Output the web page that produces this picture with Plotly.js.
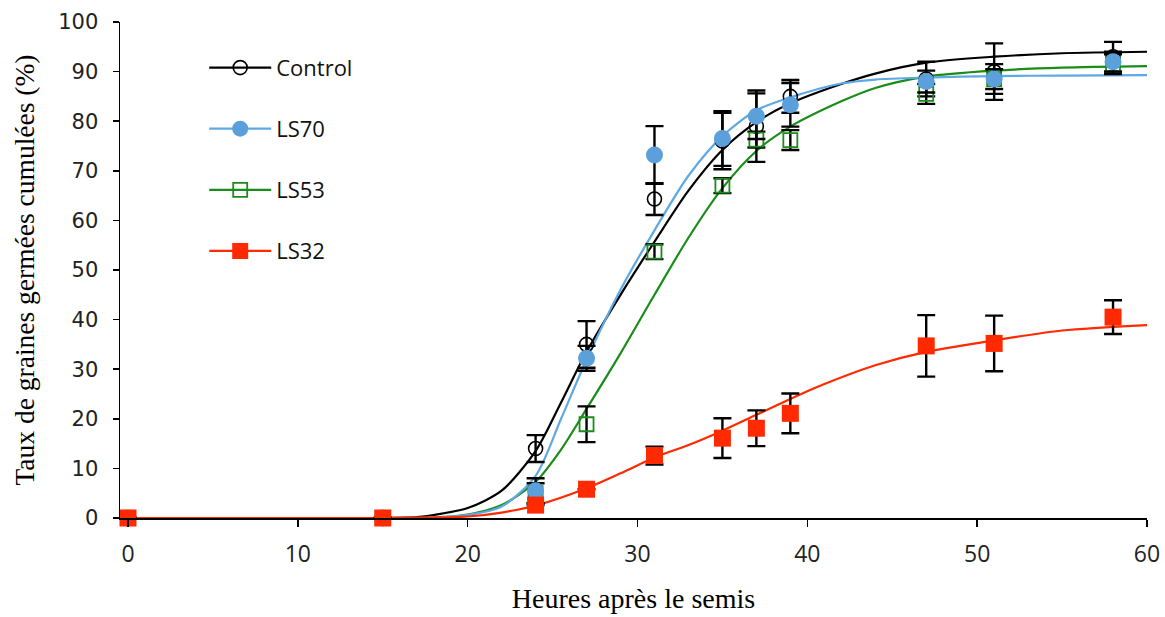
<!DOCTYPE html>
<html>
<head>
<meta charset="utf-8">
<script src="https://cdn.plot.ly/plotly-3.0.1.min.js"></script>
<style>html,body{margin:0;padding:0;background:#fff;}#chart{width:1165px;height:617px;}</style>
</head>
<body>
<div id="chart"></div>
<script>
// Observed points (hours after sowing)
const hours = [0, 15, 24, 27, 31, 35, 37, 39, 47, 51, 58];
const controlVals = [0, 0, 14, 35, 64.3, 76, 79, 85, 88.5, 90, 93];
const controlErr  = [0, 0, 2.7, 4.7, 3.2, 5.7, 7.2, 3.3, 3.5, 5.7, 3];
const ls70Vals = [0, 0, 5.5, 32.2, 73.2, 76.5, 81, 83.3, 88, 88.5, 92];
const ls70Err  = [0, 0, 2.5, 2.5, 5.8, 5.5, 4.6, 4.4, 2.2, 3, 2];
const ls53Vals = [0, 0, 5, 18.9, 53.7, 67, 76.3, 76.2, 85.5, 88.5, 91.5];
const ls53Err  = [0, 0, 2, 3.6, 1.5, 1.5, 1.6, 2, 2, 2, 2];
const ls32Vals = [0, 0, 2.6, 5.8, 12.6, 16.1, 18.1, 21.1, 34.7, 35.2, 40.5];
const ls32Err  = [0, 0, 0, 0, 1.8, 4, 3.6, 4, 6.2, 5.6, 3.4];

// Fitted curves
const controlFitX = [0, 15, 17, 18, 20, 22, 24, 25.5, 27, 29, 31, 33, 35, 37, 39, 42, 44, 47, 51, 55, 60];
const controlFitY = [0, 0, 0.2, 0.6, 2.0, 5.5, 13.5, 23.3, 33.5, 45, 55.7, 66, 74.2, 79.8, 83.6, 87.5, 89.6, 91.8, 93, 93.7, 94];
const ls70FitX = [0, 15, 18, 20, 22, 24, 25.5, 27, 29, 31, 33, 35, 37, 39, 42, 44, 47, 51, 55, 60];
const ls70FitY = [0, 0, 0.1, 0.6, 2.3, 8.5, 20, 31.9, 46, 58, 69, 77, 82.2, 84.8, 87.6, 88.4, 88.8, 89.1, 89.2, 89.3];
const ls53FitX = [0, 15, 18, 20, 22, 24, 25.5, 27, 29, 31, 33, 35, 37, 39, 42, 44, 47, 51, 55, 60];
const ls53FitY = [0, 0, 0.1, 0.7, 2.6, 7.3, 13.8, 22, 33.2, 45, 56.5, 66.5, 74, 78.9, 84, 86.7, 89, 90.2, 90.8, 91.1];
const ls32FitX = [0, 15, 18, 20, 22, 24, 27, 29, 31, 33, 35, 37, 39, 41, 44, 47, 51, 55, 60];
const ls32FitY = [0, 0, 0.1, 0.3, 1.1, 2.5, 6, 9, 12.2, 14.7, 17.6, 20.8, 24, 27, 30.8, 33.5, 35.8, 37.8, 38.9];

const seriesNames = ['Control', 'LS70', 'LS53', 'LS32'];
const xTicks = [0, 10, 20, 30, 40, 50, 60];
const yTicks = [0, 10, 20, 30, 40, 50, 60, 70, 80, 90, 100];

const styles = {
  Control: {color: '#000000', marker: {symbol: 'circle-open', size: 14, color: '#000000', line: {width: 1.6, color: '#000000'}}},
  LS70:    {color: '#5EA8E4', marker: {symbol: 'circle', size: 17, color: '#5B9FDB', line: {width: 0}}},
  LS53:    {color: '#1A8C1A', marker: {symbol: 'square-open', size: 14, color: '#1A8C1A', line: {width: 1.8, color: '#1A8C1A'}}},
  LS32:    {color: '#FF2A00', marker: {symbol: 'square', size: 17, color: '#FF2A00', line: {width: 0}}}
};
const data = {
  Control: [controlVals, controlErr, controlFitX, controlFitY],
  LS70: [ls70Vals, ls70Err, ls70FitX, ls70FitY],
  LS53: [ls53Vals, ls53Err, ls53FitX, ls53FitY],
  LS32: [ls32Vals, ls32Err, ls32FitX, ls32FitY]
};

const traces = [];
const drawOrder = ['Control', 'LS53', 'LS70', 'LS32'];
drawOrder.forEach(name => {
  const [vals, err, fx, fy] = data[name];
  const st = styles[name];
  traces.push({x: fx, y: fy, type: 'scatter', mode: 'lines', line: {color: st.color, width: 2.2, shape: 'spline', smoothing: 0.8},
    showlegend: false, hoverinfo: 'skip', cliponaxis: false});
});
drawOrder.forEach(name => {
  const [vals, err] = data[name];
  const st = styles[name];
  traces.push({x: hours, y: vals, type: 'scatter', mode: 'markers', name: name, marker: st.marker,
    error_y: {type: 'data', array: err, visible: true, color: '#000000', thickness: 2.4, width: 9},
    showlegend: false, cliponaxis: false});
});
// legend entries
seriesNames.forEach(name => {
  const st = styles[name];
  traces.push({x: [null], y: [null], type: 'scatter', mode: 'lines+markers', name: name,
    line: {color: st.color, width: 2.2}, marker: st.marker, legendgroup: name, showlegend: true});
});

const layout = {
  width: 1165, height: 617,
  margin: {l: 120, r: 18, t: 22, b: 99},
  paper_bgcolor: '#ffffff', plot_bgcolor: '#ffffff',
  showlegend: true,
  legend: {x: 0.082, y: 0.95, xanchor: 'left', yanchor: 'top', bgcolor: 'rgba(0,0,0,0)',
    font: {family: 'Open Sans, sans-serif', size: 22, color: '#111111'},
    tracegroupgap: 29.5, itemwidth: 62, traceorder: 'grouped'},
  xaxis: {
    range: [-0.47, 60], tickvals: xTicks, ticktext: xTicks.map(String),
    showgrid: false, zeroline: false, showline: true, linecolor: '#000000', linewidth: 1.5,
    ticks: 'outside', ticklen: 7, tickwidth: 1.5, tickcolor: '#000000', ticklabelstandoff: 8,
    tickfont: {family: 'Open Sans, sans-serif', size: 23, color: '#222222'},
    title: {text: 'Heures après le semis', font: {family: 'Liberation Serif, serif', size: 28, color: '#000000'}, standoff: 20},
    automargin: false
  },
  yaxis: {
    range: [0, 100], tickvals: yTicks, ticktext: yTicks.map(String),
    showgrid: false, zeroline: false, showline: true, linecolor: '#000000', linewidth: 1.5,
    ticks: 'outside', ticklen: 6, tickwidth: 1.5, tickcolor: '#000000', ticklabelstandoff: 10,
    tickfont: {family: 'DejaVu Sans, sans-serif', size: 21, color: '#222222'},
    title: {text: 'Taux de graines germées cumulées (%)', font: {family: 'Liberation Serif, serif', size: 27.5, color: '#000000'}, standoff: 15},
    automargin: false
  }
};

Plotly.newPlot('chart', traces, layout, {displayModeBar: false, staticPlot: true});
</script>
</body>
</html>
